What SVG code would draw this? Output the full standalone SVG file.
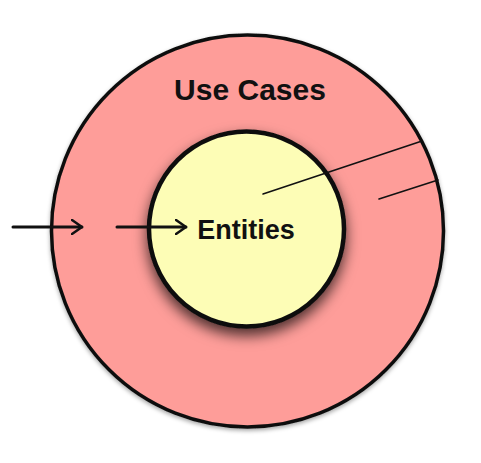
<svg xmlns="http://www.w3.org/2000/svg" width="481" height="463" viewBox="0 0 481 463">
  <style>
    .lbl { font-family: "Liberation Sans", Arial, sans-serif; font-weight: bold; fill: #111; }
    .conn { stroke: #111; fill: none; stroke-linecap: round; }
  </style>
  <defs>
    <filter id="shadow" x="-30%" y="-30%" width="160%" height="160%">
      <feDropShadow dx="0" dy="7" stdDeviation="7" flood-color="#000" flood-opacity="0.7"/>
    </filter>
    <filter id="shadowSmall" x="-10%" y="-10%" width="120%" height="120%">
      <feDropShadow dx="0" dy="2" stdDeviation="2" flood-color="#000" flood-opacity="0.35"/>
    </filter>
    <marker id="open" viewBox="0 0 12 16" refX="11" refY="8" markerWidth="12" markerHeight="16" markerUnits="userSpaceOnUse" orient="auto">
      <path d="M1,1 L11,8 L1,15" fill="none" stroke="#111" stroke-width="2.5" stroke-linecap="round" stroke-linejoin="round"/>
    </marker>
  </defs>
  <rect width="481" height="463" fill="#fff"/>
  <g id="use-cases">
    <circle cx="247.5" cy="231" r="196" fill="#FE9D99" stroke="#111" stroke-width="3.5" filter="url(#shadowSmall)"/>
    <text class="lbl" x="250" y="100" font-size="30" text-anchor="middle">Use Cases</text>
  </g>
  <g id="entities">
    <circle cx="246.5" cy="229" r="97.5" fill="#FDFDB6" stroke="#111" stroke-width="4.5" filter="url(#shadow)"/>
    <text class="lbl" x="246" y="239" font-size="27" text-anchor="middle">Entities</text>
  </g>
  <g id="connectors">
    <line class="conn" x1="13" y1="227" x2="82" y2="227" stroke-width="3" marker-end="url(#open)"/>
    <line class="conn" x1="117" y1="227" x2="186" y2="227" stroke-width="3" marker-end="url(#open)"/>
    <line class="conn" x1="263" y1="194" x2="422" y2="141" stroke-width="1.6"/>
    <line class="conn" x1="379" y1="199" x2="438" y2="180" stroke-width="1.6"/>
  </g>
</svg>
